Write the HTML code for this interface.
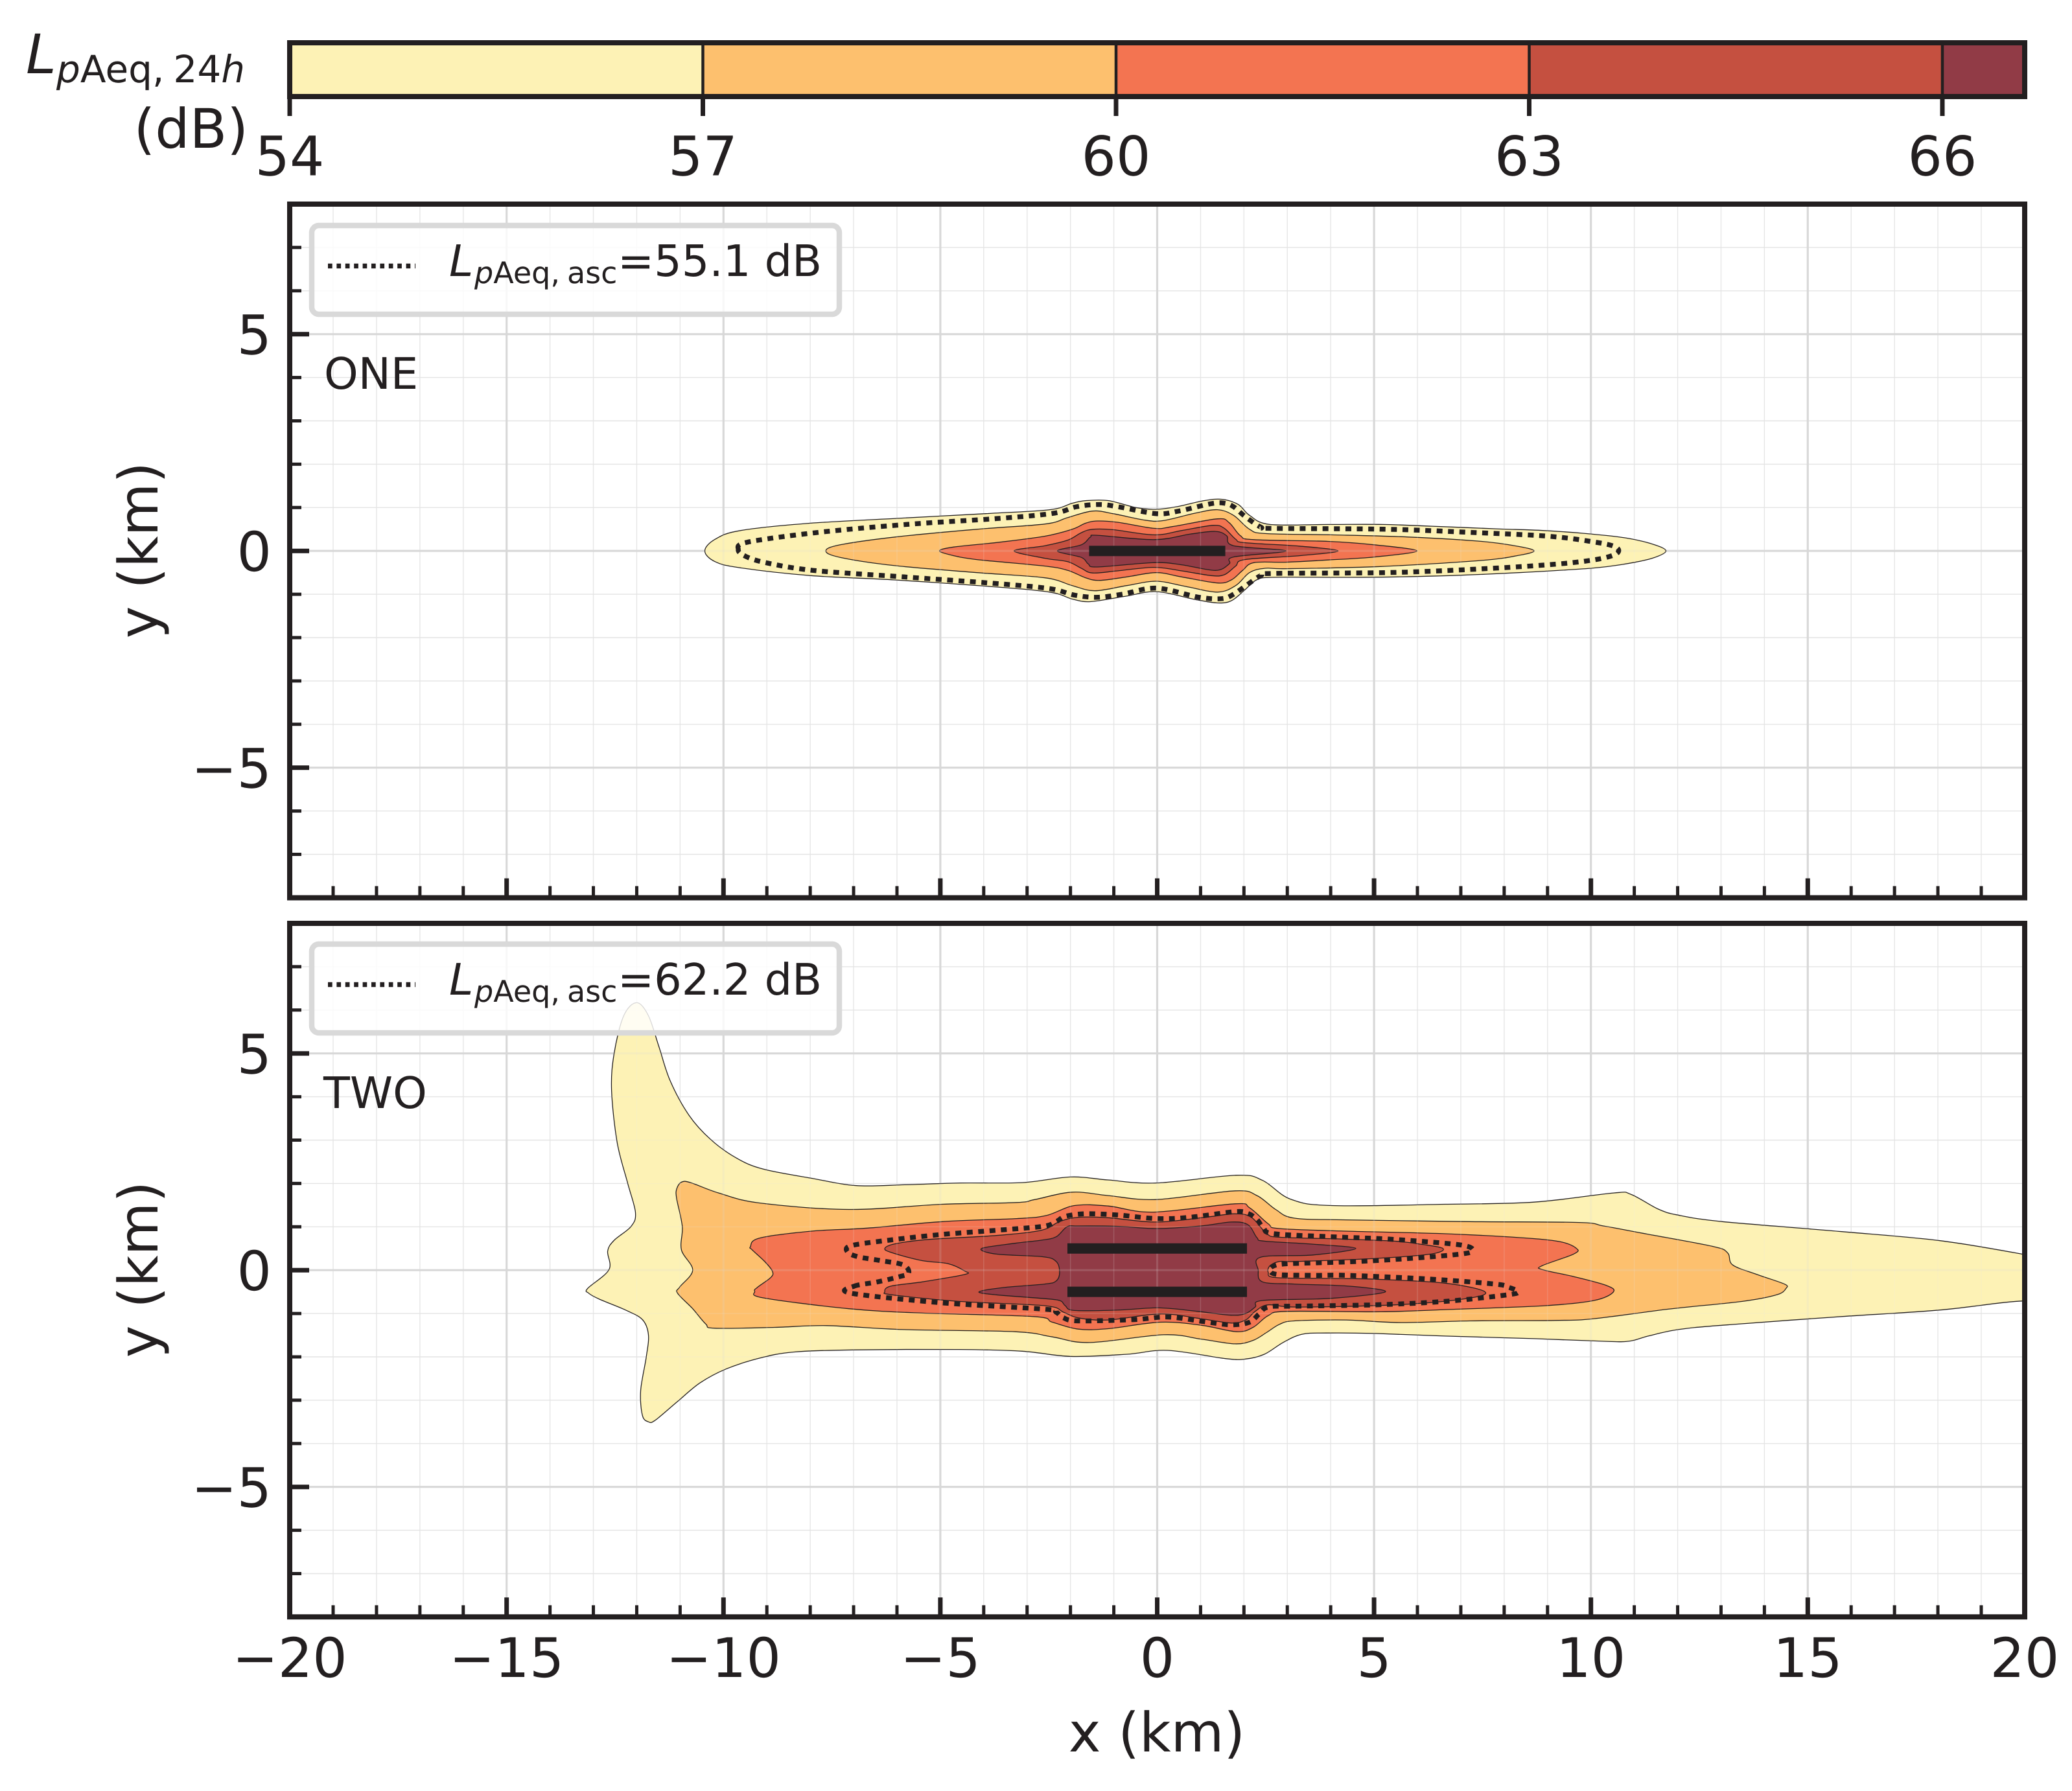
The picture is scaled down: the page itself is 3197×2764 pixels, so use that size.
<!DOCTYPE html>
<html lang="en">
<head>
<meta charset="utf-8">
<title>Noise contours</title>
<style>
html,body{margin:0;padding:0;background:#fff;width:3197px;height:2764px;overflow:hidden}
svg{display:block;position:absolute;left:0;top:0}
text{font-family:"DejaVu Sans","Liberation Sans",sans-serif;fill:#231f20;text-rendering:geometricPrecision}
</style>
</head>
<body>
<svg id="figure" xmlns="http://www.w3.org/2000/svg" width="3197" height="2764" viewBox="0 0 3197 2764">
  <defs>
    <clipPath id="clip-one"><rect x="447" y="315" width="2677" height="1070.5"/></clipPath>
    <clipPath id="clip-two"><rect x="447" y="1425" width="2677" height="1070.3"/></clipPath>
  </defs>
  <rect x="0" y="0" width="3197" height="2764" fill="#fff"/>

  <text x="40" y="113" font-size="84" font-style="italic">L</text>
  <text x="87" y="127" font-size="58"><tspan font-style="italic">p</tspan>Aeq,<tspan dx="14">24</tspan><tspan font-style="italic">h</tspan></text>
  <text x="383" y="228" font-size="84" text-anchor="end">(dB)</text>

  <g id="colorbar"></g>
  <g id="panel-one"></g>
  <g id="panel-two"></g>

  <text x="1785" y="2703" font-size="84" text-anchor="middle">x (km)</text>
  <text transform="translate(243 849) rotate(-90)" font-size="84" text-anchor="middle">y (km)</text>
  <text transform="translate(243 1959) rotate(-90)" font-size="84" text-anchor="middle">y (km)</text>
</svg>
<script>
// ----- colour scale -----
const colorbarLevels = [54, 57, 60, 63, 66, 66.6];
const colorbarTickLabels = ['54', '57', '60', '63', '66'];
const bandColors = ['#FDF2B5', '#FDC06E', '#F37451', '#C55040', '#913B46'];

// ----- axis ticks (km) -----
const xMajorTicks = [-20, -15, -10, -5, 0, 5, 10, 15, 20];
const xMinorTicks = [-19,-18,-17,-16,-14,-13,-12,-11,-9,-8,-7,-6,-4,-3,-2,-1,1,2,3,4,6,7,8,9,11,12,13,14,16,17,18,19];
const yMajorTicks = [-5, 0, 5];
const yMinorTicks = [-7,-6,-4,-3,-2,-1,1,2,3,4,6,7];
const xTickLabels = ['\u221220', '\u221215', '\u221210', '\u22125', '0', '5', '10', '15', '20'];
const yTickLabels = ['\u22125', '0', '5'];

// ----- panel ONE contours, [x km, y km] -----
const oneContour54 = [[-10.43,0],[-10.19,.27],[-9.61,.47],[-7.99,.64],[-6,.75],[-3.95,.86],[-2.48,.95],[-1.96,1.1],[-1.65,1.16],[-1.12,1.16],[-.49,1],[-.02,.96],[.45,1.02],[1.08,1.16],[1.5,1.19],[1.87,1.07],[2.13,.82],[2.6,.61],[3.96,.61],[5.21,.61],[6.34,.57],[7.81,.51],[8.92,.47],[10,.39],[10.8,.3],[11.41,.16],[11.73,0],[11.41,-.17],[10.8,-.3],[10,-.4],[8.35,-.5],[7.01,-.56],[5.54,-.6],[4.21,-.61],[2.65,-.61],[2.29,-.67],[2.02,-.9],[1.71,-1.15],[1.39,-1.2],[.87,-1.12],[-.02,-.94],[-.75,-1.05],[-1.54,-1.17],[-1.96,-1.11],[-2.48,-.95],[-3.85,-.82],[-6.05,-.67],[-7.99,-.57],[-9.61,-.39],[-10.19,-.25]];
const oneContour57 = [[-7.64,0],[-7.31,.14],[-6.05,.32],[-4.16,.5],[-2.59,.62],[-2.06,.77],[-1.49,.92],[-1.02,.86],[-.28,.71],[.14,.7],[.87,.87],[1.39,.95],[1.76,.82],[2.13,.5],[2.49,.4],[4.01,.37],[5.81,.32],[7.48,.22],[8.35,.1],[8.69,0],[8.35,-.1],[7.48,-.22],[5.14,-.36],[3.01,-.41],[2.49,-.4],[2.13,-.5],[1.81,-.8],[1.39,-.95],[.66,-.82],[-.02,-.7],[-.7,-.8],[-1.44,-.92],[-1.96,-.8],[-2.59,-.62],[-4.16,-.5],[-6.05,-.34],[-7.31,-.15]];
const oneContour60 = [[-5.02,0],[-4.69,.09],[-3.64,.2],[-2.59,.34],[-1.96,.5],[-1.65,.64],[-1.38,.69],[-.91,.66],[-.07,.52],[.35,.56],[1.39,.74],[1.66,.65],[1.92,.35],[2.23,.26],[3.94,.22],[5.01,.14],[5.99,0],[5.01,-.14],[3.94,-.21],[2.97,-.26],[2.23,-.27],[1.97,-.45],[1.71,-.67],[1.39,-.74],[.56,-.6],[-.02,-.5],[-.7,-.6],[-1.33,-.68],[-1.65,-.62],[-2.06,-.45],[-2.59,-.35],[-4.16,-.2],[-4.69,-.11]];
const oneContour63 = [[-3.3,0],[-2.59,.12],[-2.06,.25],[-1.75,.42],[-1.49,.5],[-1.02,.49],[-.07,.37],[.56,.47],[1.29,.59],[1.55,.52],[1.81,.27],[2.02,.19],[3.28,.11],[4.17,0],[3.28,-.11],[2.02,-.2],[1.81,-.35],[1.55,-.55],[1.24,-.57],[.56,-.46],[-.07,-.38],[-.91,-.46],[-1.49,-.51],[-1.75,-.4],[-2.06,-.25],[-2.59,-.17]];
const oneContour66 = [[-2.3,0],[-1.75,.14],[-1.54,.32],[-1.38,.36],[-.07,.26],[.77,.39],[1.34,.45],[1.6,.35],[1.76,.12],[2.97,0],[1.76,-.14],[1.66,-.3],[1.34,-.45],[.56,-.32],[-.07,-.27],[-1.38,-.37],[-1.59,-.3],[-1.75,-.15]];
const oneAscentContour = [[-9.66,.03],[-9.45,.2],[-7.88,.42],[-5.79,.61],[-3.64,.75],[-2.38,.87],[-1.86,1.02],[-1.33,1.07],[-.91,1.02],[-.02,.86],[.5,.92],[1.24,1.09],[1.55,1.1],[1.76,1.02],[2.02,.8],[2.39,.55],[2.65,.52],[5.28,.5],[7.15,.43],[9.01,.34],[10.05,.21],[10.57,.09],[10.58,-.07],[10.05,-.21],[9.01,-.32],[7.15,-.43],[5.28,-.5],[2.67,-.52],[2.39,-.57],[2.02,-.82],[1.76,-1],[1.5,-1.1],[.97,-1.07],[-.02,-.86],[-.81,-1],[-1.38,-1.07],[-1.91,-1.02],[-2.48,-.87],[-3.74,-.75],[-5.84,-.6],[-7.93,-.45],[-9.03,-.27],[-9.5,-.12]];
const oneRunways = [[-1.57, 1.57, 0]];

// ----- panel TWO contours, [x km, y km] -----
const twoContour54 = [[-13.13,-.42],[-12.64,.01],[-12.67,.44],[-12.52,.69],[-12.13,1.01],[-12.03,1.33],[-12.21,2.01],[-12.45,2.94],[-12.58,4.16],[-12.52,5.01],[-12.3,5.87],[-12,6.17],[-11.73,5.87],[-11.49,5.16],[-11.23,4.37],[-10.8,3.58],[-10.29,3.01],[-9.69,2.58],[-9.08,2.33],[-7.97,2.12],[-6.94,1.95],[-5.82,1.97],[-4.53,2.01],[-3.11,2.02],[-1.99,2.15],[-1.13,2.08],[-.02,2.01],[1.83,2.19],[2.43,2.07],[3.07,1.64],[4.02,1.49],[6.64,1.52],[8.69,1.57],[10.52,1.78],[10.92,1.75],[11.55,1.41],[12.01,1.27],[13.03,1.12],[15.78,.89],[18.05,.68],[20,.36],[21,.15],[21,-.85],[20,-.71],[18.05,-.92],[15.78,-1.07],[13.03,-1.27],[12.01,-1.37],[11.32,-1.52],[10.87,-1.64],[10.27,-1.64],[8.69,-1.58],[6.64,-1.52],[5.03,-1.46],[3.9,-1.45],[3.33,-1.48],[2.9,-1.67],[2.47,-1.94],[2.04,-2.05],[1.57,-2.04],[.24,-1.85],[-.7,-1.94],[-1.99,-1.99],[-3.11,-1.87],[-4.57,-1.83],[-7.02,-1.84],[-8.39,-1.89],[-9.17,-2.03],[-9.94,-2.28],[-10.54,-2.6],[-11.06,-3.03],[-11.57,-3.46],[-11.73,-3.5],[-11.87,-3.35],[-11.91,-2.78],[-11.78,-2],[-11.73,-1.49],[-11.87,-1.14],[-12.26,-.92],[-12.86,-.67],[-13.11,-.53]];
const twoContour57 = [[-11.08,1.87],[-10.97,2.03],[-10.76,2.02],[-10.11,1.78],[-9.17,1.55],[-7.11,1.4],[-4.96,1.52],[-3.24,1.56],[-2.82,1.63],[-1.96,1.8],[-1.13,1.72],[-.02,1.63],[1.79,1.83],[2.3,1.72],[2.73,1.4],[3.16,1.2],[4.36,1.16],[7.21,1.12],[9.72,1.1],[10.29,1.02],[11.2,.85],[12.8,.55],[13.15,.4],[13.27,.12],[13.83,-.1],[14.46,-.32],[14.5,-.42],[14.28,-.57],[13.49,-.72],[11.78,-.9],[10.07,-1.12],[9.16,-1.16],[7.21,-1.17],[5.61,-1.21],[4.36,-1.15],[3.16,-1.17],[2.82,-1.25],[2.52,-1.44],[2.21,-1.62],[1.79,-1.7],[1.01,-1.59],[.15,-1.49],[-1.56,-1.67],[-2.42,-1.54],[-3.28,-1.42],[-5.85,-1.37],[-7.62,-1.28],[-8.82,-1.32],[-10.2,-1.34],[-10.41,-1.24],[-10.71,-.89],[-11.06,-.53],[-11.01,-.39],[-10.71,0],[-10.97,.47],[-10.95,1.01],[-11.08,1.65]];
const twoContour60 = [[-9.38,.54],[-9.17,.74],[-7.97,.9],[-6.68,.97],[-4.96,1.12],[-3.24,1.19],[-2.56,1.26],[-1.91,1.49],[-1.13,1.48],[-.1,1.34],[1.79,1.53],[2.13,1.44],[2.56,1.07],[2.82,.96],[4.36,.9],[6.64,.84],[8.36,.75],[9.27,.66],[9.67,.5],[9.6,.37],[8.87,.1],[8.89,.01],[9.61,-.15],[10.35,-.35],[10.52,-.5],[10.07,-.7],[8.93,-.82],[6.64,-.91],[5.16,-.96],[2.99,-.95],[2.56,-1.05],[2.21,-1.32],[1.83,-1.42],[1.01,-1.27],[.07,-1.2],[-1.13,-1.35],[-1.82,-1.36],[-2.42,-1.2],[-2.85,-1.07],[-5.42,-.99],[-7.11,-.89],[-9.08,-.64],[-9.28,-.49],[-9.21,-.39],[-8.91,-.17],[-8.87,-.03],[-9.04,.19],[-9.34,.47]];
const twoContour63 = [[-6.28,.5],[-6.03,.61],[-5.25,.71],[-3.71,.8],[-2.68,.92],[-2.25,1.12],[-1.82,1.22],[-1.13,1.21],[-.02,1.11],[1.1,1.22],[1.79,1.3],[2.17,1.22],[2.52,.85],[2.82,.76],[4.2,.72],[5.46,.67],[6.07,.6],[6.59,.5],[6.3,.37],[5.03,.27],[3.22,.2],[2.82,.2],[2.6,.1],[2.56,-.05],[2.73,-.17],[4.02,-.19],[5.03,-.21],[6.64,-.3],[7.56,-.5],[7.1,-.66],[5.5,-.8],[3.22,-.85],[2.56,-.8],[2.26,-.95],[2.04,-1.15],[1.7,-1.22],[1.01,-1.12],[.07,-1.01],[-1.13,-1.15],[-1.82,-1.1],[-2.16,-.97],[-2.59,-.82],[-4.57,-.72],[-6.11,-.57],[-6.28,-.5],[-6.15,-.37],[-5.42,-.27],[-4.44,-.1],[-4.44,-.02],[-4.82,.15],[-5.42,.22],[-6.11,.4]];
const twoContour66 = [[-4.05,.5],[-3.28,.62],[-2.68,.69],[-2.33,.77],[-2.08,1],[-1.82,1.02],[-.88,1.01],[-.02,.96],[1.01,1.02],[1.7,1.11],[2.09,1.05],[2.3,.75],[2.47,.67],[3.59,.6],[4.58,.5],[3.59,.35],[2.39,.3],[2.33,0],[2.43,-.27],[3.16,-.32],[4.45,-.37],[5.26,-.5],[4.02,-.65],[2.43,-.7],[2.26,-.85],[2.04,-1],[1.7,-1.04],[.93,-.95],[.03,-.87],[-.88,-.92],[-1.91,-.93],[-2.12,-.82],[-2.25,-.7],[-2.68,-.65],[-3.71,-.57],[-4.11,-.5],[-3.54,-.4],[-2.59,-.32],[-2.33,-.25],[-2.25,-.05],[-2.33,.2],[-2.64,.31],[-3.71,.37]];
const twoAscentContour = [[-6.99,-.37],[-6.45,-.27],[-5.94,-.15],[-5.73,-.07],[-5.85,.12],[-6.37,.22],[-6.9,.31],[-7.14,.42],[-7.07,.56],[-6.28,.68],[-5,.82],[-3.71,.92],[-2.64,1.01],[-2.33,1.12],[-2.12,1.24],[-1.65,1.3],[-.88,1.27],[-.02,1.19],[.76,1.22],[1.79,1.35],[2.09,1.31],[2.3,1.17],[2.45,.97],[2.69,.84],[4.02,.77],[5.27,.72],[6.64,.62],[7.15,.55],[7.27,.45],[6.99,.37],[5.67,.26],[4.36,.19],[3.03,.15],[2.69,.1],[2.6,0],[2.77,-.1],[3.59,-.12],[4.36,-.12],[6.19,-.2],[7.78,-.32],[8.12,-.4],[8.32,-.5],[8.07,-.57],[6.64,-.72],[5.03,-.8],[3.22,-.83],[2.56,-.85],[2.34,-1.02],[2.13,-1.2],[1.7,-1.26],[1.1,-1.19],[.24,-1.08],[-.53,-1.14],[-1.82,-1.17],[-2.16,-1.1],[-2.33,-.97],[-2.59,-.9],[-5,-.75],[-7.06,-.53]];
const twoRunways = [[-2.07, 2.07, 0.5], [-2.07, 2.07, -0.5]];

// ----- legend and panel labels -----
const oneAscentLabel = '=55.1 dB';
const twoAscentLabel = '=62.2 dB';

// ----- axis functions -----
const NS = 'http://www.w3.org/2000/svg';
const INK = '#231f20';
function xPx(km) { return 1785.5 + 66.92 * km; }
function yPxOne(km) { return 850.2 - 66.9 * km; }
function yPxTwo(km) { return 1960.2 - 66.9 * km; }
function levelPx(db) { return 447 + (db - 54) * 212.5; }

function svgEl(parent, tag, props) {
  const el = document.createElementNS(NS, tag);
  for (const key in props) el.setAttribute(key, props[key]);
  parent.appendChild(el);
  return el;
}

// Closed Catmull-Rom spline through data points mapped by the axis functions.
function smoothPath(points, yPx) {
  const p = points.map(function (d) { return [xPx(d[0]), yPx(d[1])]; });
  const n = p.length;
  let d = 'M' + p[0][0].toFixed(1) + ' ' + p[0][1].toFixed(1);
  for (let i = 0; i < n; i++) {
    const p0 = p[(i - 1 + n) % n], p1 = p[i], p2 = p[(i + 1) % n], p3 = p[(i + 2) % n];
    const c1x = p1[0] + (p2[0] - p0[0]) / 6, c1y = p1[1] + (p2[1] - p0[1]) / 6;
    const c2x = p2[0] - (p3[0] - p1[0]) / 6, c2y = p2[1] - (p3[1] - p1[1]) / 6;
    d += 'C' + c1x.toFixed(1) + ' ' + c1y.toFixed(1) + ' ' + c2x.toFixed(1) + ' ' + c2y.toFixed(1) + ' ' + p2[0].toFixed(1) + ' ' + p2[1].toFixed(1);
  }
  return d + 'Z';
}

function drawGrid(group, yPx, opacity, top, bottom) {
  xMinorTicks.forEach(function (v) {
    const line = svgEl(group, 'line', { x1: xPx(v), x2: xPx(v), y1: top, y2: bottom, stroke: '#e6e6e6', 'stroke-width': 1.4, opacity: opacity });
    
    
  });
  yMinorTicks.forEach(function (v) {
    const line = svgEl(group, 'line', { x1: 447, x2: 3124, y1: yPx(v), y2: yPx(v), stroke: '#e4e4e4', 'stroke-width': 1.4, opacity: opacity });
    
    
  });
  xMajorTicks.forEach(function (v) {
    const line = svgEl(group, 'line', { x1: xPx(v), x2: xPx(v), y1: top, y2: bottom, stroke: '#d8d8d8', 'stroke-width': 3.2, opacity: opacity });
    
    
  });
  yMajorTicks.forEach(function (v) {
    const line = svgEl(group, 'line', { x1: 447, x2: 3124, y1: yPx(v), y2: yPx(v), stroke: '#d8d8d8', 'stroke-width': 3.2, opacity: opacity });
    
    
  });
}

function drawPanel(cfg) {
  const root = document.getElementById(cfg.id);
  drawGrid(root, cfg.yPx, 1, cfg.top, cfg.bottom);

  const marks = svgEl(root, 'g', { 'clip-path': 'url(#' + cfg.clip + ')' });
  
  
  cfg.contours.forEach(function (points, i) {
    const band = svgEl(marks, 'path', { d: smoothPath(points, cfg.yPx), fill: bandColors[i], stroke: INK, 'stroke-width': 1.3, 'stroke-linejoin': 'round' });
    
    
  });

  // Gridlines glimmer faintly through the semi-transparent bands.
  const clipId = cfg.clip + '-outer';
  const clip = svgEl(root, 'clipPath', { id: clipId });
  svgEl(clip, 'path', { d: smoothPath(cfg.contours[0], cfg.yPx) });
  const ghost = svgEl(root, 'g', { 'clip-path': 'url(#' + clipId + ')' });
  
  
  drawGrid(ghost, cfg.yPx, 0.18, cfg.top, cfg.bottom);

  const ascent = svgEl(root, 'path', { d: smoothPath(cfg.ascent, cfg.yPx), fill: 'none', stroke: INK, 'stroke-width': 7.5, 'stroke-dasharray': '9 8.6' });
  
  

  cfg.runways.forEach(function (r) {
    const bar = svgEl(root, 'line', { x1: xPx(r[0]), x2: xPx(r[1]), y1: cfg.yPx(r[2]), y2: cfg.yPx(r[2]), stroke: INK, 'stroke-width': 16 });
    
    
  });

  // Legend
  const L = cfg.legendTop;
  const legend = svgEl(root, 'g', {});
  
  
  const box = svgEl(legend, 'rect', { x: 481, y: L + 4, width: 814, height: 137, rx: 11, ry: 11, fill: '#fff', 'fill-opacity': 0.82, stroke: '#d9d9d9', 'stroke-width': 8.5 });
  
  
  const key = svgEl(legend, 'line', { x1: 506, x2: 641, y1: L + 66.5, y2: L + 66.5, stroke: INK, 'stroke-width': 7.5, 'stroke-dasharray': '6.7 6.7' });
  
  
  const sym = svgEl(legend, 'text', { x: 693, y: L + 82, 'font-size': 67, 'font-style': 'italic' });
  
  
  sym.textContent = 'L';
  const sub = svgEl(legend, 'text', { x: 732, y: L + 93, 'font-size': 46 });
  
  
  const subP = svgEl(sub, 'tspan', { 'font-style': 'italic' });
  subP.textContent = 'p';
  const subA = svgEl(sub, 'tspan', {});
  subA.textContent = 'Aeq,';
  const subB = svgEl(sub, 'tspan', { dx: 11 });
  subB.textContent = 'asc';
  const val = svgEl(legend, 'text', { x: 953, y: L + 82, 'font-size': 67 });
  
  
  val.textContent = cfg.legendValue;

  const tag = svgEl(root, 'text', { x: cfg.tagX, y: cfg.tagY, 'font-size': 67 });
  
  
  tag.textContent = cfg.tag;

  // Inward ticks
  xMinorTicks.forEach(function (v) {
    const t = svgEl(root, 'line', { x1: xPx(v), x2: xPx(v), y1: cfg.bottom, y2: cfg.bottom - 18, stroke: INK, 'stroke-width': 5 });
    
    
  });
  xMajorTicks.forEach(function (v) {
    const t = svgEl(root, 'line', { x1: xPx(v), x2: xPx(v), y1: cfg.bottom, y2: cfg.bottom - 30, stroke: INK, 'stroke-width': 7 });
    
    
  });
  yMinorTicks.forEach(function (v) {
    const t = svgEl(root, 'line', { x1: 447, x2: 465, y1: cfg.yPx(v), y2: cfg.yPx(v), stroke: INK, 'stroke-width': 5 });
    
    
  });
  yMajorTicks.forEach(function (v, i) {
    const t = svgEl(root, 'line', { x1: 447, x2: 477, y1: cfg.yPx(v), y2: cfg.yPx(v), stroke: INK, 'stroke-width': 7 });
    
    
    const label = svgEl(root, 'text', { x: 419, y: cfg.yPx(v) + 31, 'font-size': 84, 'text-anchor': 'end' });
    
    
    label.textContent = yTickLabels[i];
  });

  const frame = svgEl(root, 'rect', { x: 447, y: cfg.top, width: 2677, height: cfg.bottom - cfg.top, fill: 'none', stroke: INK, 'stroke-width': 8 });
  
  
}

function drawColorbar() {
  const root = document.getElementById('colorbar');
  for (let i = 0; i < bandColors.length; i++) {
    const x0 = levelPx(colorbarLevels[i]), x1 = levelPx(colorbarLevels[i + 1]);
    const cell = svgEl(root, 'rect', { x: x0, y: 66, width: Math.min(x1, 3124) - x0, height: 83, fill: bandColors[i] });
    
    
  }
  colorbarTickLabels.forEach(function (txt, i) {
    const x = levelPx(colorbarLevels[i]);
    if (i > 0) {
      const div = svgEl(root, 'line', { x1: x, x2: x, y1: 66, y2: 149, stroke: INK, 'stroke-width': 4.5 });
      
      
    }
    const t = svgEl(root, 'line', { x1: x, x2: x, y1: 149, y2: 179, stroke: INK, 'stroke-width': 7 });
    
    
    const label = svgEl(root, 'text', { x: x, y: 270.5, 'font-size': 84, 'text-anchor': 'middle' });
    
    
    label.textContent = txt;
  });
  const frame = svgEl(root, 'rect', { x: 447, y: 66, width: 2677, height: 83, fill: 'none', stroke: INK, 'stroke-width': 8 });
  
  
}

drawColorbar();
drawPanel({
  id: 'panel-one', clip: 'clip-one', yPx: yPxOne, top: 315, bottom: 1385.5,
  contours: [oneContour54, oneContour57, oneContour60, oneContour63, oneContour66],
  ascent: oneAscentContour, runways: oneRunways,
  legendTop: 344, legendValue: oneAscentLabel,
  tag: 'ONE', tagX: 500, tagY: 600
});
drawPanel({
  id: 'panel-two', clip: 'clip-two', yPx: yPxTwo, top: 1425, bottom: 2495.3,
  contours: [twoContour54, twoContour57, twoContour60, twoContour63, twoContour66],
  ascent: twoAscentContour, runways: twoRunways,
  legendTop: 1453, legendValue: twoAscentLabel,
  tag: 'TWO', tagX: 499, tagY: 1710
});

const bottomTickRoot = document.getElementById('figure');
xMajorTicks.forEach(function (v, i) {
  const label = svgEl(bottomTickRoot, 'text', { x: xPx(v), y: 2588, 'font-size': 84, 'text-anchor': 'middle' });
  
  
  label.textContent = xTickLabels[i];
});
</script>
</body>
</html>
